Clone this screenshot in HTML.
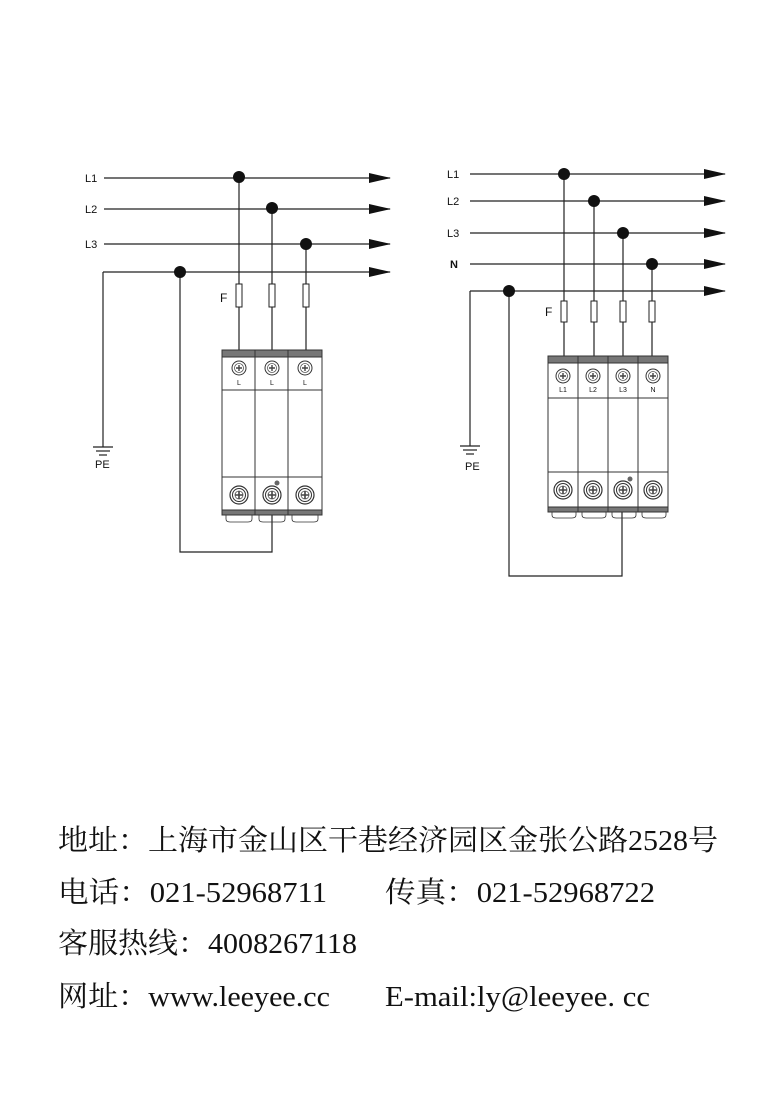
<!DOCTYPE html>
<html><head><meta charset="utf-8"><style>
html,body{margin:0;padding:0;background:#fff;}
svg{display:block;}
</style></head><body>
<svg width="775" height="1113" viewBox="0 0 775 1113" xmlns="http://www.w3.org/2000/svg">
<defs>
<marker id="ar" markerWidth="22" markerHeight="10" refX="21" refY="5" orient="auto" markerUnits="userSpaceOnUse"><path d="M0,0 L22,5 L0,10 Z" fill="#111"/></marker>
<g id="scr"><circle r="7" fill="#fff" stroke="#333" stroke-width="1"/><circle r="4.5" fill="none" stroke="#555" stroke-width="0.8"/><path d="M-3,0H3M0,-3V3" stroke="#444" stroke-width="1.4"/></g>
<g id="bscr"><circle r="9" fill="#fff" stroke="#333" stroke-width="1.2"/><circle r="6.5" fill="none" stroke="#333" stroke-width="1"/><circle r="4" fill="none" stroke="#555" stroke-width="0.8"/><path d="M-4,0H4M0,-4V4" stroke="#444" stroke-width="1.6"/></g>
</defs>
<g font-family="Liberation Sans, sans-serif" font-size="11" fill="#111">
<!-- LEFT DIAGRAM -->
<text x="85" y="182">L1</text><text x="85" y="213">L2</text><text x="85" y="248">L3</text>
<g stroke="#222" stroke-width="1.2" fill="none">
<line x1="104" y1="178" x2="390" y2="178" marker-end="url(#ar)"/>
<line x1="104" y1="209" x2="390" y2="209" marker-end="url(#ar)"/>
<line x1="104" y1="244" x2="390" y2="244" marker-end="url(#ar)"/>
<line x1="103" y1="272" x2="390" y2="272" marker-end="url(#ar)"/>
<line x1="103" y1="272" x2="103" y2="447"/>
<line x1="239" y1="178" x2="239" y2="352"/>
<line x1="272" y1="209" x2="272" y2="352"/>
<line x1="306" y1="244" x2="306" y2="352"/>
<polyline points="180,272 180,552 272,552 272,515"/>
<line x1="93" y1="447" x2="113" y2="447"/><line x1="96" y1="451" x2="110" y2="451"/><line x1="99" y1="455" x2="107" y2="455"/>
</g>
<text x="95" y="468" font-size="11">PE</text>
<g fill="#fff" stroke="#222" stroke-width="1"><rect x="236" y="284" width="6" height="23"/><rect x="269" y="284" width="6" height="23"/><rect x="303" y="284" width="6" height="23"/></g>
<text x="220" y="302" font-size="12">F</text>
<g fill="#111"><circle cx="239" cy="177" r="6"/><circle cx="272" cy="208" r="6"/><circle cx="306" cy="244" r="6"/><circle cx="180" cy="272" r="6"/></g>
<!-- left device -->
<g stroke="#333" stroke-width="1" fill="#fff">
<rect x="222" y="350" width="100" height="165"/>
<rect x="222" y="350" width="100" height="7" fill="#777"/>
<line x1="222" y1="390" x2="322" y2="390"/><line x1="222" y1="477" x2="322" y2="477"/>
<rect x="222" y="510" width="100" height="5" fill="#777"/>
<line x1="255" y1="350" x2="255" y2="515"/><line x1="288" y1="350" x2="288" y2="515"/>
<path d="M226,515 v4 q0,3 4,3 h18 q4,0 4,-3 v-4 M259,515 v4 q0,3 4,3 h18 q4,0 4,-3 v-4 M292,515 v4 q0,3 4,3 h18 q4,0 4,-3 v-4" fill="none" stroke-width="0.8"/>
</g>
<use href="#scr" x="239" y="368"/><use href="#scr" x="272" y="368"/><use href="#scr" x="305" y="368"/>
<g font-size="7" text-anchor="middle"><text x="239" y="385">L</text><text x="272" y="385">L</text><text x="305" y="385">L</text></g>
<use href="#bscr" x="239" y="495"/><use href="#bscr" x="272" y="495"/><use href="#bscr" x="305" y="495"/>
<circle cx="277" cy="483" r="2.5" fill="#666"/>

<!-- RIGHT DIAGRAM -->
<text x="447" y="178">L1</text><text x="447" y="205">L2</text><text x="447" y="237">L3</text><text x="450" y="268" font-weight="bold">N</text>
<g stroke="#222" stroke-width="1.2" fill="none">
<line x1="470" y1="174" x2="725" y2="174" marker-end="url(#ar)"/>
<line x1="470" y1="201" x2="725" y2="201" marker-end="url(#ar)"/>
<line x1="470" y1="233" x2="725" y2="233" marker-end="url(#ar)"/>
<line x1="470" y1="264" x2="725" y2="264" marker-end="url(#ar)"/>
<line x1="470" y1="291" x2="725" y2="291" marker-end="url(#ar)"/>
<line x1="470" y1="291" x2="470" y2="446"/>
<line x1="564" y1="174" x2="564" y2="358"/>
<line x1="594" y1="201" x2="594" y2="358"/>
<line x1="623" y1="233" x2="623" y2="358"/>
<line x1="652" y1="264" x2="652" y2="358"/>
<polyline points="509,291 509,576 622,576 622,512"/>
<line x1="460" y1="446" x2="480" y2="446"/><line x1="463" y1="450" x2="477" y2="450"/><line x1="466" y1="454" x2="474" y2="454"/>
</g>
<text x="465" y="470" font-size="11">PE</text>
<g fill="#fff" stroke="#222" stroke-width="1"><rect x="561" y="301" width="6" height="21"/><rect x="591" y="301" width="6" height="21"/><rect x="620" y="301" width="6" height="21"/><rect x="649" y="301" width="6" height="21"/></g>
<text x="545" y="316" font-size="12">F</text>
<g fill="#111"><circle cx="564" cy="174" r="6"/><circle cx="594" cy="201" r="6"/><circle cx="623" cy="233" r="6"/><circle cx="652" cy="264" r="6"/><circle cx="509" cy="291" r="6"/></g>
<g stroke="#333" stroke-width="1" fill="#fff">
<rect x="548" y="356" width="120" height="156"/>
<rect x="548" y="356" width="120" height="7" fill="#777"/>
<line x1="548" y1="398" x2="668" y2="398"/><line x1="548" y1="472" x2="668" y2="472"/>
<rect x="548" y="507" width="120" height="5" fill="#777"/>
<line x1="578" y1="356" x2="578" y2="512"/><line x1="608" y1="356" x2="608" y2="512"/><line x1="638" y1="356" x2="638" y2="512"/>
<path d="M552,512 v3 q0,3 4,3 h16 q4,0 4,-3 v-3 M582,512 v3 q0,3 4,3 h16 q4,0 4,-3 v-3 M612,512 v3 q0,3 4,3 h16 q4,0 4,-3 v-3 M642,512 v3 q0,3 4,3 h16 q4,0 4,-3 v-3" fill="none" stroke-width="0.8"/>
</g>
<use href="#scr" x="563" y="376"/><use href="#scr" x="593" y="376"/><use href="#scr" x="623" y="376"/><use href="#scr" x="653" y="376"/>
<g font-size="7" text-anchor="middle"><text x="563" y="392">L1</text><text x="593" y="392">L2</text><text x="623" y="392">L3</text><text x="653" y="392">N</text></g>
<use href="#bscr" x="563" y="490"/><use href="#bscr" x="593" y="490"/><use href="#bscr" x="623" y="490"/><use href="#bscr" x="653" y="490"/>
<circle cx="630" cy="479" r="2.5" fill="#666"/>
</g>

<g font-family="Liberation Serif, 'Noto Serif CJK SC', serif" font-size="29" fill="#111">
<text x="58" y="850" textLength="660" lengthAdjust="spacingAndGlyphs">地址：上海市金山区干巷经济园区金张公路2528号</text>
<text x="58" y="902" textLength="269" lengthAdjust="spacingAndGlyphs">电话：021-52968711</text>
<text x="385" y="902" textLength="270" lengthAdjust="spacingAndGlyphs">传真：021-52968722</text>
<text x="58" y="953" textLength="299" lengthAdjust="spacingAndGlyphs">客服热线：4008267118</text>
<text x="58" y="1006" textLength="272" lengthAdjust="spacingAndGlyphs">网址：www.leeyee.cc</text>
<text x="385" y="1006" textLength="265" lengthAdjust="spacingAndGlyphs">E-mail:ly@leeyee. cc</text>
</g>
</svg>
</body></html>
